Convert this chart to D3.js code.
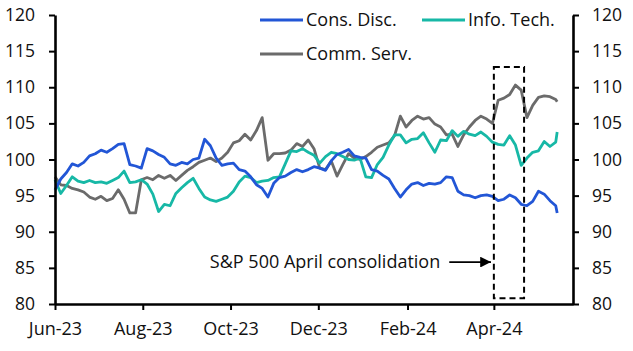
<!DOCTYPE html>
<html lang="en">
<head>
	<meta charset="utf-8">
	<title>sector indices</title>
	<script src="https://d3js.org/d3.v7.min.js"></script>
	<style type="text/css">
		body { margin: 0; background: #fff; }
		text { font-family: "Open Sans", "Noto Sans", sans-serif; fill: #111; }
		.axis path, .axis line { stroke: #000; }
	</style>
</head>
<body>
	<svg id="chart-svg"></svg>

	<script type="text/javascript">
		// data -----------------------------------------
		let dates = [
			'2023-06-01','2023-06-05','2023-06-09','2023-06-13','2023-06-17','2023-06-21','2023-06-25','2023-06-29',
			'2023-07-03','2023-07-07','2023-07-11','2023-07-15','2023-07-19','2023-07-23','2023-07-27','2023-07-31',
			'2023-08-04','2023-08-08','2023-08-12','2023-08-16','2023-08-20','2023-08-24','2023-08-28','2023-09-01',
			'2023-09-05','2023-09-09','2023-09-13','2023-09-17','2023-09-21','2023-09-25','2023-09-29','2023-10-03',
			'2023-10-07','2023-10-11','2023-10-15','2023-10-19','2023-10-23','2023-10-27','2023-10-31','2023-11-04',
			'2023-11-08','2023-11-12','2023-11-16','2023-11-20','2023-11-24','2023-11-28','2023-12-02','2023-12-06',
			'2023-12-10','2023-12-14','2023-12-18','2023-12-22','2023-12-26','2023-12-30','2024-01-03','2024-01-07',
			'2024-01-11','2024-01-15','2024-01-19','2024-01-23','2024-01-27','2024-01-31','2024-02-04','2024-02-08',
			'2024-02-12','2024-02-16','2024-02-20','2024-02-24','2024-02-28','2024-03-03','2024-03-07','2024-03-11',
			'2024-03-15','2024-03-19','2024-03-23','2024-03-27','2024-03-31','2024-04-04','2024-04-08','2024-04-12',
			'2024-04-16','2024-04-20','2024-04-24','2024-04-28','2024-05-02','2024-05-06','2024-05-10','2024-05-14',
			'2024-05-15'
		]

		let consDisc = [
			95.8, 97.3, 98.2, 99.4, 99.1, 99.6, 100.5, 100.8,
			101.3, 101.0, 101.5, 102.1, 102.2, 99.3, 99.1, 98.8,
			101.5, 101.2, 100.7, 100.3, 99.4, 99.2, 99.6, 99.4,
			100.0, 100.2, 102.8, 101.9, 100.2, 99.2, 99.4, 99.5,
			98.6, 98.4, 97.6, 96.5, 96.0, 94.8, 96.7, 97.5,
			97.7, 98.2, 98.6, 98.3, 98.6, 99.0, 98.8, 98.5,
			99.8, 100.7, 101.0, 101.4, 100.5, 100.3, 100.2, 98.6,
			98.4, 97.8, 97.3, 96.0, 94.8, 95.8, 96.6, 96.8,
			96.4, 96.7, 96.6, 96.8, 97.6, 97.5, 95.6, 95.1,
			95.0, 94.7, 95.0, 95.1, 94.9, 94.3, 94.5, 95.1,
			94.7, 93.8, 93.6, 94.2, 95.6, 95.2, 94.3, 93.6,
			92.6
		]

		let infoTech = [
			97.2, 95.3, 96.4, 97.6, 97.0, 96.8, 97.1, 96.8,
			96.9, 96.7, 97.1, 97.5, 98.4, 96.8, 96.9, 97.2,
			96.6, 95.2, 92.8, 93.8, 93.6, 95.3, 96.1, 96.8,
			97.4, 96.0, 94.8, 94.4, 94.2, 94.5, 94.8, 95.6,
			96.9, 97.7, 97.5, 96.8, 97.0, 97.1, 97.5, 97.6,
			99.4, 101.2, 101.1, 101.5, 101.0, 100.6, 99.5, 100.4,
			101.0, 100.8, 100.4, 100.0, 99.9, 100.2, 97.6, 97.5,
			99.3, 100.3, 102.0, 103.4, 103.4, 102.3, 102.8, 102.9,
			103.7, 102.3, 101.0, 102.7, 102.6, 104.0, 103.2, 103.9,
			103.5, 103.3, 103.8, 103.2, 102.4, 102.1, 102.0, 103.3,
			102.0, 99.2, 100.2, 101.0, 101.2, 102.5, 101.8, 102.4,
			103.8
		]

		let commServ = [
			97.6, 96.5, 96.4, 96.0, 95.8, 95.5, 94.8, 94.5,
			94.9, 94.3, 94.6, 95.8, 94.5, 92.6, 92.6, 97.2,
			97.5, 97.2, 97.8, 97.4, 97.8, 97.1, 97.8, 98.5,
			99.0, 99.6, 99.9, 100.2, 99.7, 100.2, 101.0, 102.3,
			102.6, 103.5, 102.7, 104.0, 105.8, 99.9, 100.8, 100.8,
			100.9, 101.3, 102.2, 101.8, 102.7, 101.5, 98.8, 98.6,
			99.8, 97.7, 99.3, 100.8, 100.2, 100.0, 100.4, 101.0,
			101.7, 102.0, 102.3, 103.3, 106.0, 104.5, 105.4, 106.0,
			105.6, 105.8, 104.9, 104.5, 103.4, 103.5, 101.8, 103.4,
			104.5, 105.4, 106.0, 105.6, 105.0, 108.2, 108.5, 109.0,
			110.3, 109.6, 105.8, 107.5, 108.6, 108.8, 108.7, 108.3,
			108.0
		]

		let seriesNames = ['Cons. Disc.', 'Info. Tech.', 'Comm. Serv.']
		let seriesColors = ['#2256d6', '#17b8a6', '#6b6b6b']

		let tickDates = ['2023-06-01', '2023-08-01', '2023-10-01', '2023-12-01', '2024-02-01', '2024-04-01']
		let tickLabels = ['Jun-23', 'Aug-23', 'Oct-23', 'Dec-23', 'Feb-24', 'Apr-24']
		let yTicks = [80, 85, 90, 95, 100, 105, 110, 115, 120]

		// box round April and the note pointing at it
		let boxDates = ['2024-04-01', '2024-04-22']
		let boxValues = [80.8, 112.8]
		let noteText = 'S&P 500 April consolidation'
		let arrowDates = ['2024-03-01', '2024-03-30']
		let arrowValue = 85.8
	</script>

	<script type="text/javascript">
		let w = 633
		let h = 351
		let mLeft = 55
		let mRight = 573
		let mTop = 15
		let mBottom = 304

		let parseTime = d3.timeParse('%Y-%m-%d')

		let svg = d3.select('#chart-svg')
		.attr('width', w)
		.attr('height', h)

		let xScale = d3.scaleTime()
		.domain([parseTime('2023-06-01'), parseTime('2024-05-26')])
		.range([mLeft, mRight])

		let yScale = d3.scaleLinear()
		.domain([80, 120])
		.range([mBottom, mTop])

		let allSeries = [consDisc, infoTech, commServ]

		// lines
		let line = d3.line()
		.x((d, i) => xScale(parseTime(dates[i])))
		.y(d => yScale(d))

		// draw grey first so blue sits on top as in the picture
		let order = [2, 1, 0]
		svg.append('g')
		.selectAll('path')
		.data(order)
		.enter()
		.append('path')
		.attr('d', k => line(allSeries[k]))
		.attr('fill', 'none')
		.attr('stroke', k => seriesColors[k])
		.attr('stroke-width', 2.8)
		.attr('stroke-linejoin', 'round')

		// axes
		let yLeft = d3.axisLeft(yScale).tickValues(yTicks).tickSize(6).tickPadding(14)
		let yRight = d3.axisRight(yScale).tickValues(yTicks).tickSize(6).tickPadding(13)
		let xAxis = d3.axisBottom(xScale)
		.tickValues(tickDates.map(parseTime))
		.tickFormat((d, i) => tickLabels[i])
		.tickSize(6)
		.tickPadding(12)

		let styleAxis = function(g, size) {
			g.attr('class', 'axis')
			g.select('.domain').attr('stroke-width', 2.6)
			g.selectAll('.tick line').attr('stroke-width', 2)
			g.selectAll('text')
			.attr('font-size', size)
			.attr('font-family', '"Open Sans", sans-serif')
			.attr('fill', '#111')
		}

		svg.append('g')
		.attr('transform', 'translate(' + mLeft + ',0)')
		.call(yLeft.tickSizeOuter(0))
		.call(styleAxis, 17.5)

		svg.append('g')
		.attr('transform', 'translate(' + mRight + ',0)')
		.call(yRight.tickSizeOuter(0))
		.call(styleAxis, 17.5)

		svg.append('g')
		.attr('transform', 'translate(0,' + mBottom + ')')
		.call(xAxis.tickSizeOuter(0))
		.call(styleAxis, 18)

		// dashed box
		svg.append('rect')
		.attr('x', xScale(parseTime(boxDates[0])))
		.attr('y', yScale(boxValues[1]))
		.attr('width', xScale(parseTime(boxDates[1])) - xScale(parseTime(boxDates[0])))
		.attr('height', yScale(boxValues[0]) - yScale(boxValues[1]))
		.attr('fill', 'none')
		.attr('stroke', '#000')
		.attr('stroke-width', 2)
		.attr('stroke-dasharray', '6,4')

		// arrow and note
		svg.append('defs').append('marker')
		.attr('id', 'head')
		.attr('viewBox', '0 0 10 10')
		.attr('refX', 10)
		.attr('refY', 5)
		.attr('markerWidth', 6)
		.attr('markerHeight', 6)
		.attr('markerUnits', 'strokeWidth')
		.attr('orient', 'auto')
		.append('path')
		.attr('d', 'M0,0 L10,5 L0,10 z')
		.attr('fill', '#000')

		let ax0 = xScale(parseTime(arrowDates[0]))
		let ax1 = xScale(parseTime(arrowDates[1]))
		svg.append('line')
		.attr('x1', ax0)
		.attr('x2', ax1)
		.attr('y1', yScale(arrowValue))
		.attr('y2', yScale(arrowValue))
		.attr('stroke', '#000')
		.attr('stroke-width', 1.8)
		.attr('marker-end', 'url(#head)')

		svg.append('text')
		.attr('x', ax0 - 9)
		.attr('y', yScale(arrowValue) + 6)
		.attr('text-anchor', 'end')
		.attr('font-size', 18)
		.text(noteText)

		// legend
		let legendPos = [[260, 20], [422, 20], [260, 54]]
		let legend = svg.append('g')
		.selectAll('g')
		.data(seriesNames)
		.enter()
		.append('g')
		.attr('transform', (d, i) => 'translate(' + legendPos[i][0] + ',' + legendPos[i][1] + ')')

		legend.append('line')
		.attr('x1', 0)
		.attr('x2', 43)
		.attr('stroke', (d, i) => seriesColors[i])
		.attr('stroke-width', 2.8)

		legend.append('text')
		.attr('x', 46)
		.attr('dy', '0.35em')
		.attr('font-size', 18)
		.text(d => d)
	</script>
</body>
</html>
